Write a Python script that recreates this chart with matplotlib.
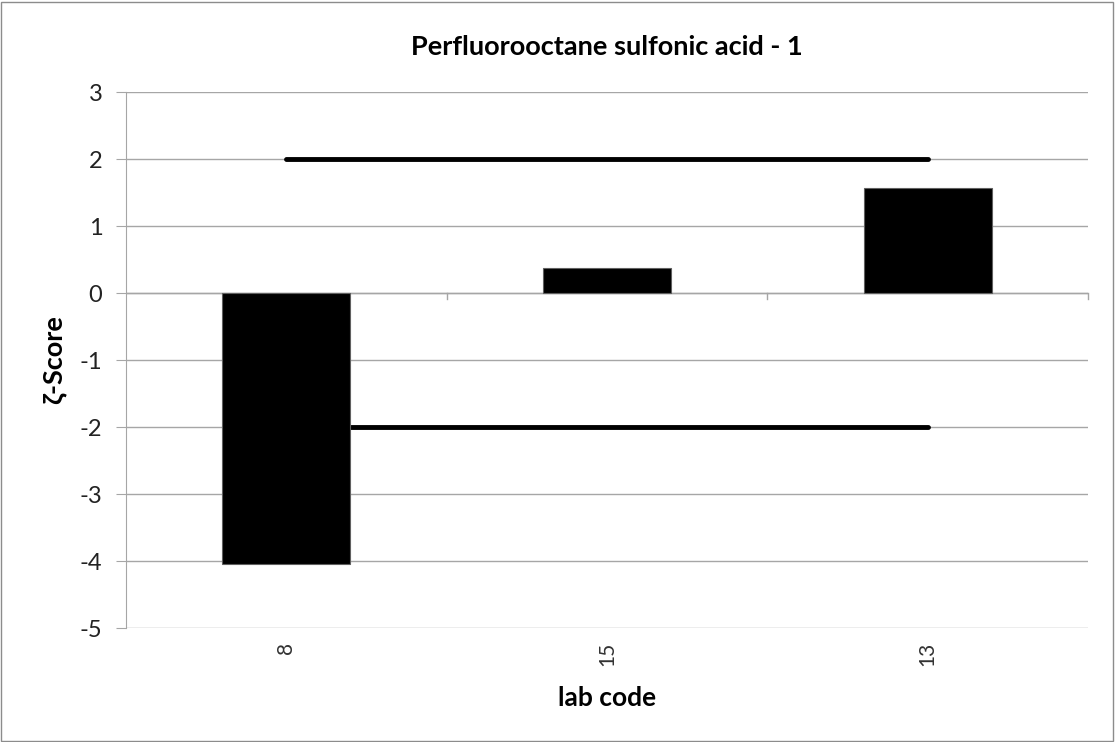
import matplotlib.pyplot as plt
import matplotlib.patches as patches
import numpy as np

# # Data

lab_codes = ['8', '15', '13']
z_scores = [-4.04, 0.37, 1.56]
upper_limit = [2, 2, 2]
lower_limit = [-2, -2, -2]

plt.rcParams['font.family'] = ['Lato', 'DejaVu Sans']
plt.rcParams['axes.unicode_minus'] = False

# # Figure

fig = plt.figure(figsize=(11.17, 7.42), dpi=100)
ax = fig.add_axes([0.1128, 0.1536, 0.974 - 0.1128, 0.876 - 0.1536])

x = np.arange(len(lab_codes))

# limit lines (under the bars)
ax.plot(x, upper_limit, color='black', linewidth=3.5, solid_capstyle='round', zorder=2)
ax.plot(x, lower_limit, color='black', linewidth=3.5, solid_capstyle='round', zorder=2)

# bars
ax.bar(x, z_scores, width=0.4, color='black', edgecolor='#606060', linewidth=0.8, zorder=3)

ax.set_xlim(-0.5, len(lab_codes) - 0.5)
ax.set_ylim(-5, 3)
ax.set_yticks(range(-5, 4))
ax.yaxis.grid(True, color='#a6a6a6', linewidth=1)
ax.set_axisbelow(True)

# x axis crosses at 0
for side in ['top', 'right', 'bottom']:
    ax.spines[side].set_visible(False)
ax.spines['left'].set_color('#a6a6a6')
ax.axhline(0, color='#a6a6a6', linewidth=1, zorder=1)

# category boundary ticks on the zero line
for b in np.arange(0.5, len(lab_codes), 1.0):
    ax.plot([b, b], [0, -0.09], color='#a6a6a6', linewidth=1, zorder=1, clip_on=False)

ax.set_xticks(x)
ax.set_xticklabels(lab_codes, rotation=90, fontsize=15, color='#333333')
ax.tick_params(axis='x', length=0, pad=10)
ax.tick_params(axis='y', length=7, color='#a6a6a6', labelsize=17, labelcolor='#222222', pad=10)

ax.set_title('Perfluorooctane sulfonic acid - 1', fontsize=19.5, fontweight='bold', pad=27)
ax.set_xlabel('lab code', fontsize=19, fontweight='bold', labelpad=14)
ax.set_ylabel('ζ-Score', fontsize=19.5, fontweight='bold', labelpad=10)

# chart border
fig.patches.append(patches.Rectangle((0.001, 0.002), 0.995, 0.995, transform=fig.transFigure,
                                     fill=False, edgecolor='#8c8c8c', linewidth=1))

plt.savefig('out.png', dpi=100)
